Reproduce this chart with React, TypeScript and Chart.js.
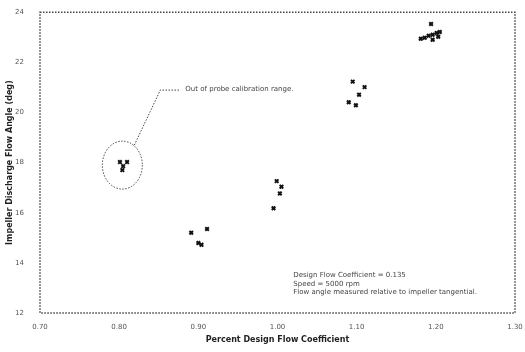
import React, { useEffect, useRef } from "react";
import { Chart, registerables } from "chart.js";

Chart.register(...registerables);

const xTicks = [0.7, 0.8, 0.9, 1.0, 1.1, 1.2, 1.3];
const yTicks = [12, 14, 16, 18, 20, 22, 24];

const flowCoeff = [
  0.801, 0.81, 0.805, 0.804,
  0.891, 0.911, 0.9, 0.904,
  0.999, 1.005, 1.003, 0.995,
  1.095, 1.11, 1.103, 1.09, 1.099,
  1.194, 1.181, 1.186, 1.191, 1.196, 1.201, 1.205, 1.196, 1.203,
];
const flowAngle = [
  18.02, 18.02, 17.86, 17.7,
  15.2, 15.35, 14.79, 14.72,
  17.26, 17.04, 16.77, 16.18,
  21.23, 21.01, 20.71, 20.41, 20.29,
  23.53, 22.94, 22.98, 23.06, 23.1, 23.17, 23.21, 22.9, 23.02,
];

const calloutText = "Out of probe calibration range.";
const noteLines = [
  "Design Flow Coefficient = 0.135",
  "Speed = 5000 rpm",
  "Flow angle measured relative to impeller tangential.",
];
const xTitle = "Percent Design Flow Coefficient";
const yTitle = "Impeller Discharge Flow Angle (deg)";

const annotations = {
  id: "annotations",
  afterDraw(chart: any) {
    const { ctx, chartArea, scales } = chart;
    const x = scales.x;
    const y = scales.y;
    ctx.save();
    // dotted frame
    ctx.strokeStyle = "#444";
    ctx.lineWidth = 1.5;
    ctx.setLineDash([1.5, 1.5]);
    ctx.strokeRect(chartArea.left, chartArea.top, chartArea.right - chartArea.left, chartArea.bottom - chartArea.top);
    // ellipse around out-of-range cluster
    const cx = x.getPixelForValue(0.804);
    const cy = y.getPixelForValue(17.9);
    ctx.lineWidth = 1;
    ctx.setLineDash([1.5, 1.5]);
    ctx.beginPath();
    ctx.ellipse(cx, cy, 20, 24, 0, 0, Math.PI * 2);
    ctx.stroke();
    // leader line
    ctx.beginPath();
    ctx.moveTo(cx + 12, cy - 20);
    ctx.lineTo(cx + 38, cy - 75);
    ctx.lineTo(cx + 58, cy - 75);
    ctx.stroke();
    ctx.setLineDash([]);
    ctx.fillStyle = "#444";
    ctx.font = "7px 'DejaVu Sans'";
    ctx.textBaseline = "middle";
    ctx.textAlign = "left";
    ctx.fillText(calloutText, cx + 63, cy - 76);
    // notes
    noteLines.forEach((t, i) => {
      ctx.fillText(t, x.getPixelForValue(1.02), y.getPixelForValue(13.5) + i * 8.5);
    });
    // axis titles
    ctx.fillStyle = "#222";
    ctx.font = "bold 8px 'DejaVu Sans'";
    ctx.textAlign = "center";
    ctx.fillText(xTitle, (chartArea.left + chartArea.right) / 2, 340);
    ctx.translate(10, (chartArea.top + chartArea.bottom) / 2);
    ctx.rotate(-Math.PI / 2);
    ctx.fillText(yTitle, 0, 0);
    ctx.restore();
  },
};

export default function App() {
  const ref = useRef<HTMLCanvasElement>(null);
  useEffect(() => {
    const chart = new Chart(ref.current!, {
      type: "scatter",
      data: {
        datasets: [
          {
            data: flowCoeff.map((v, i) => ({ x: v, y: flowAngle[i] })),
            pointStyle: "crossRot",
            radius: 2.5,
            borderWidth: 2,
            borderColor: "#111",
            backgroundColor: "#111",
          },
        ],
      },
      options: {
        animation: false,
        responsive: false,
        layout: { padding: { top: 8, right: 10, left: 0, bottom: 0 } },
        plugins: { legend: { display: false }, tooltip: { enabled: false } },
        scales: {
          x: {
            type: "linear",
            min: 0.7,
            max: 1.3,
            afterBuildTicks: (s: any) => {
              s.ticks = xTicks.map((v) => ({ value: v }));
            },
            afterFit: (s: any) => {
              s.height = 39;
            },
            grid: { display: false },
            border: { display: false },
            ticks: {
              color: "#555",
              font: { size: 7, family: "'DejaVu Sans'" },
              padding: 2,
              callback: (v: any) => Number(v).toFixed(2),
            },
          },
          y: {
            type: "linear",
            min: 12,
            max: 24,
            afterBuildTicks: (s: any) => {
              s.ticks = yTicks.map((v) => ({ value: v }));
            },
            afterFit: (s: any) => {
              s.width = 40;
            },
            grid: { display: false },
            border: { display: false },
            ticks: {
              color: "#555",
              font: { size: 7, family: "'DejaVu Sans'" },
              padding: 8,
            },
          },
        },
      },
      plugins: [annotations],
    });
    return () => chart.destroy();
  }, []);
  return (
    <div style={{ position: "fixed", left: 0, top: 0, width: 525, height: 352, background: "#fff" }}>
      <canvas ref={ref} width={525} height={352} />
    </div>
  );
}
